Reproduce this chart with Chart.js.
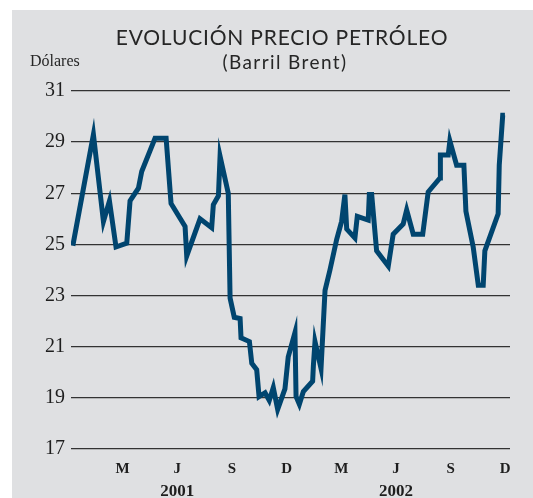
<!DOCTYPE html>
<html>
<head>
<meta charset="utf-8">
<script src="https://cdn.jsdelivr.net/npm/chart.js@4.4.1/dist/chart.umd.min.js"></script>
<style>
  html, body { margin: 0; padding: 0; background: #fff; }
  #panel { position: absolute; left: 12px; top: 10px; width: 521px; height: 488px; background: #dfe0e2; }
  #wrap { position: absolute; left: 0; top: 0; width: 533px; height: 498px; }
</style>
</head>
<body>
<div id="panel"></div>
<div id="wrap"><canvas id="chart" width="533" height="498"></canvas></div>
<script>
'use strict';

// meses desde enero 2001 (0 = ene 2001)
const meses = [
  -0.73, 0.40, 0.95, 1.28, 1.64, 2.23, 2.41, 2.87, 3.05, 3.78,
  4.39, 4.66, 5.43, 5.52, 6.25, 6.89, 6.98, 7.26, 7.35, 7.80,
  7.90, 8.13, 8.45, 8.50, 8.96, 9.09, 9.36, 9.49, 9.82, 10.05,
  10.27, 10.51, 10.91, 11.09, 11.46, 11.52, 11.70, 11.92, 12.43, 12.47,
  12.56, 12.89, 13.11, 13.38, 13.75, 14.02, 14.20, 14.30, 14.75, 14.88,
  15.48, 15.54, 15.67, 15.94, 16.58, 16.85, 17.40, 17.59, 17.95, 18.47,
  18.77, 19.42, 19.44, 19.87, 19.96, 20.33, 20.73, 20.84, 21.24, 21.52,
  21.79, 21.88, 22.61, 22.67, 22.86, 22.98
];

// dólares por barril
const precios = [
  24.95, 29.3, 25.9, 26.7, 24.9, 25.05, 26.7, 27.2, 27.85, 29.15,
  29.15, 26.6, 25.7, 24.55, 26.0, 25.65, 26.55, 26.9, 28.45, 27.0,
  22.9, 22.15, 22.1, 21.35, 21.2, 20.35, 20.1, 19.05, 19.2, 18.9,
  19.4, 18.55, 19.35, 20.6, 21.55, 19.05, 18.75, 19.25, 19.65, 20.25,
  21.2, 20.15, 23.2, 24.0, 25.2, 25.9, 26.95, 25.6, 25.25, 26.1,
  25.95, 26.95, 26.95, 24.75, 24.15, 25.4, 25.8, 26.35, 25.4, 25.4,
  27.05, 27.6, 28.5, 28.5, 29.05, 28.1, 28.1, 26.3, 24.9, 23.4,
  23.4, 24.75, 26.2, 28.1, 30.05, 30.05
];

const ticksMes = [2, 5, 8, 11, 14, 17, 20, 23];
const etiquetasMes = ['M', 'J', 'S', 'D', 'M', 'J', 'S', 'D'];
const ticksAnio = [5, 17];
const etiquetasAnio = ['2001', '2002'];

const serif = "'Liberation Serif', 'Times New Roman', serif";
const sans = "Lato, 'Open Sans', sans-serif";

// titulos y "Dólares"
const textos = {
  id: 'textos',
  afterDraw(chart) {
    const ctx = chart.ctx;
    ctx.save();
    ctx.fillStyle = '#262626';
    ctx.textAlign = 'center';
    ctx.textBaseline = 'middle';
    ctx.font = '21px ' + sans;
    ctx.letterSpacing = '0.8px';
    ctx.fillText('EVOLUCIÓN PRECIO PETRÓLEO', 282, 38);
    ctx.font = '19px ' + sans;
    ctx.letterSpacing = '1.4px';
    ctx.fillText('(Barril Brent)', 285, 63);
    ctx.letterSpacing = '0px';
    ctx.textAlign = 'left';
    ctx.font = '16px ' + serif;
    ctx.fillText('Dólares', 30, 62);
    ctx.restore();
  }
};

const ctx = document.getElementById('chart');
const chart = new Chart(ctx, {
  type: 'line',
  data: {
    datasets: [{
      data: meses.map((m, i) => ({x: m, y: precios[i]})),
      borderColor: '#00456f',
      borderWidth: 5,
      borderJoinStyle: 'miter',
      pointRadius: 0,
      tension: 0,
      fill: false
    }]
  },
  options: {
    responsive: false,
    animation: false,
    devicePixelRatio: 1,
    layout: {padding: {top: 91, right: 23, bottom: 1, left: 0}},
    plugins: {legend: {display: false}, tooltip: {enabled: false}, title: {display: false}},
    scales: {
      x: {
        type: 'linear',
        position: 'bottom',
        min: -0.83,
        max: 23.26,
        afterBuildTicks(s) { s.ticks = ticksMes.map(v => ({value: v})); },
        afterFit(s) { s.height = 24; },
        grid: {display: false},
        border: {display: false},
        ticks: {
          autoSkip: false,
          maxRotation: 0,
          padding: 3,
          color: '#1e1e1e',
          font: {family: serif, size: 15, weight: 'bold'},
          callback: (v, i) => etiquetasMes[i]
        }
      },
      x2: {
        type: 'linear',
        position: 'bottom',
        min: -0.83,
        max: 23.26,
        afterBuildTicks(s) { s.ticks = ticksAnio.map(v => ({value: v})); },
        afterFit(s) { s.height = 24; },
        grid: {display: false},
        border: {display: false},
        ticks: {
          autoSkip: false,
          maxRotation: 0,
          padding: 0,
          color: '#1e1e1e',
          font: {family: serif, size: 17, weight: 'bold'},
          callback: (v, i) => etiquetasAnio[i]
        }
      },
      y: {
        min: 17,
        max: 31,
        afterFit(s) { s.width = 71; },
        border: {display: false},
        grid: {color: '#333333', lineWidth: 1.3, drawTicks: false},
        ticks: {
          stepSize: 2,
          padding: 6,
          color: '#1e1e1e',
          font: {family: serif, size: 20}
        }
      }
    }
  },
  plugins: [textos]
});
</script>
</body>
</html>
